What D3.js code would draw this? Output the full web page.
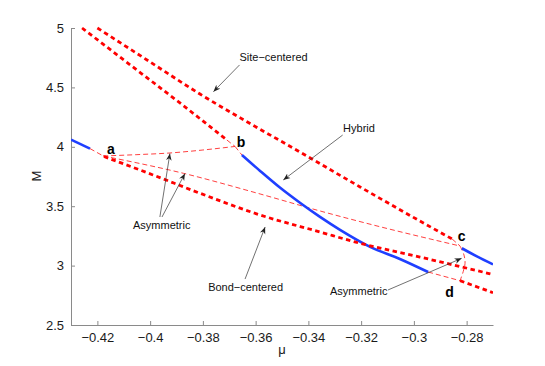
<!DOCTYPE html>
<html><head><meta charset="utf-8">
<script src="https://cdn.jsdelivr.net/npm/d3@7"></script>
<style>body{margin:0;background:#fff}svg{display:block}</style>
</head><body><svg id="c" width="545" height="366"></svg>
<script>
// ---- data ----
const xTicks = [-0.42,-0.40,-0.38,-0.36,-0.34,-0.32,-0.30,-0.28];
const xTickLabels = ["\u22120.42","\u22120.4","\u22120.38","\u22120.36","\u22120.34","\u22120.32","\u22120.3","\u22120.28"];
const yTicks = [2.5,3,3.5,4,4.5,5];
const yTickLabels = ["2.5","3","3.5","4","4.5","5"];

// [mu, M]
const siteOuter = [[-0.42,5.0],[-0.400,4.714],[-0.3811,4.444],[-0.3621,4.196],[-0.3432,3.956],[-0.3204,3.662],[-0.2977,3.375],[-0.2855,3.224]];
const siteInner = [[-0.4258,5.0],[-0.4050,4.646],[-0.3887,4.369],[-0.3709,4.057]];
const bondUpper = [[-0.4175,3.918],[-0.3989,3.763],[-0.3811,3.609],[-0.3583,3.426],[-0.3356,3.283],[-0.3204,3.188],[-0.2977,3.072],[-0.27,2.925]];
const bondLower = [[-0.2825,2.873],[-0.27,2.772]];
const hybridMain = [[-0.3652,3.931],[-0.3583,3.797],[-0.3508,3.657],[-0.3432,3.529],[-0.3356,3.410],[-0.3280,3.301],[-0.3166,3.158],[-0.3053,3.056],[-0.2946,2.946]];
const hybridLeft = [[-0.43,4.06],[-0.4228,3.985]];
const hybridRight = [[-0.2818,3.146],[-0.2761,3.077],[-0.27,3.01]];
const asymAB = [[-0.4178,3.923],[-0.405,3.934],[-0.3925,3.948],[-0.380,3.973],[-0.3678,4.003]];
const asymAC = [[-0.4178,3.923],[-0.3874,3.777],[-0.3583,3.603],[-0.3356,3.460],[-0.3128,3.327],[-0.2825,3.165]];
const asymDC = [[-0.2825,3.165],[-0.2810,3.089],[-0.2806,3.019],[-0.2813,2.949],[-0.2825,2.873]];
const connB1 = [[-0.3709,4.057],[-0.3678,4.003]];
const connB2 = [[-0.3678,4.003],[-0.3652,3.931]];
const connA = [[-0.4228,3.985],[-0.4178,3.923]];
const connC = [[-0.2855,3.224],[-0.2825,3.165]];
const connD = [[-0.2946,2.946],[-0.2825,2.873]];

// ---- chart ----
const svg = d3.select("#c");
const L = 71, R = 493, T = 28, B = 325;
const x = d3.scaleLinear().domain([-0.43,-0.27]).range([L,R]);
const y = d3.scaleLinear().domain([2.5,5]).range([B,T]);
const font = "'Liberation Sans', Arial, Helvetica, sans-serif";

svg.append("defs").append("clipPath").attr("id","clip")
  .append("rect").attr("x",L).attr("y",T-5).attr("width",R-L).attr("height",B-T+5);
svg.select("defs").append("marker").attr("id","arr")
  .attr("viewBox","0 0 10 10").attr("refX",10).attr("refY",5)
  .attr("markerWidth",7).attr("markerHeight",7).attr("markerUnits","userSpaceOnUse")
  .attr("orient","auto")
  .append("path").attr("d","M0,1 L10,5 L0,9 L3,5 Z").attr("fill","#222");

// axes
const xAxis = d3.axisBottom(x).tickValues(xTicks).tickFormat((d,i)=>xTickLabels[i]).tickSizeInner(-4).tickSizeOuter(0).tickPadding(8);
const yAxis = d3.axisLeft(y).tickValues(yTicks).tickFormat((d,i)=>yTickLabels[i]).tickSizeInner(-4).tickSizeOuter(0).tickPadding(7);
const gx = svg.append("g").attr("transform",`translate(0,${B})`).call(xAxis);
const gy = svg.append("g").attr("transform",`translate(${L},0)`).call(yAxis);
[gx,gy].forEach(g=>{
  g.select(".domain").attr("stroke","#8a8a8a").attr("stroke-width",1);
  g.selectAll(".tick line").attr("stroke","#8a8a8a");
  g.selectAll("text").attr("fill","#1a1a1a").style("font-family",font).style("font-size","13px");
});

svg.append("text").attr("x",282).attr("y",354).attr("text-anchor","middle")
  .style("font-family",font).style("font-size","13px").attr("fill","#1a1a1a").text("\u03bc");
svg.append("text").attr("transform","translate(41,176) rotate(-90)").attr("text-anchor","middle")
  .style("font-family",font).style("font-size","13px").attr("fill","#1a1a1a").text("M");

const line = d3.line().x(d=>x(d[0])).y(d=>y(d[1])).curve(d3.curveMonotoneX);
const lineC = d3.line().x(d=>x(d[0])).y(d=>y(d[1])).curve(d3.curveCatmullRom);
const plot = svg.append("g").attr("clip-path","url(#clip)");

const RED = "#ff0000", BLUE = "#1f3fff";
function draw(data, style, gen){
  plot.append("path").datum(data).attr("d",(gen||line)(data)).attr("fill","none")
    .attr("stroke",style.c).attr("stroke-width",style.w)
    .attr("stroke-dasharray",style.dash||null);
}
const thin = {c:"#ff2a2a",w:0.9,dash:"5,3"};
const thick = {c:RED,w:2.8,dash:"4.5,3.5"};
const solid = {c:BLUE,w:2.6};

[asymAB,asymAC,connB1,connB2,connA,connC,connD].forEach(d=>draw(d,thin));
draw(asymDC,thin,lineC);
[hybridMain,hybridLeft,hybridRight].forEach(d=>draw(d,solid));
[siteOuter,siteInner,bondUpper,bondLower].forEach(d=>draw(d,thick));

// annotations
const notes = [
  {t:"Site\u2212centered", tx:-0.3532, ty:4.722, arrows:[[[-0.3661,4.689],[-0.3760,4.464]]]},
  {t:"Hybrid", tx:-0.3208, ty:4.125, arrows:[[[-0.3270,4.099],[-0.3495,3.721]]]},
  {t:"Asymmetric", tx:-0.3956, ty:3.308, arrows:[[[-0.3963,3.409],[-0.3925,3.944]],[[-0.3955,3.409],[-0.3868,3.775]]]},
  {t:"Bond\u2212centered", tx:-0.3638, ty:2.786, arrows:[[[-0.3640,2.887],[-0.3564,3.325]]]},
  {t:"Asymmetric", tx:-0.3209, ty:2.753, arrows:[[[-0.3098,2.795],[-0.2819,3.061]]]}
];
notes.forEach(n=>{
  n.arrows.forEach(a=>{
    svg.append("line").attr("x1",x(a[0][0])).attr("y1",y(a[0][1]))
      .attr("x2",x(a[1][0])).attr("y2",y(a[1][1]))
      .attr("stroke","#333").attr("stroke-width",0.7).attr("marker-end","url(#arr)");
  });
  svg.append("text").attr("x",x(n.tx)).attr("y",y(n.ty)).attr("text-anchor","middle")
    .style("font-family",font).style("font-size","11px").attr("fill","#111").text(n.t);
});

const pts = [{t:"a",x:-0.4149,y:3.939},{t:"b",x:-0.3655,y:4.001},{t:"c",x:-0.2819,y:3.211},{t:"d",x:-0.2865,y:2.732}];
pts.forEach(p=>{
  svg.append("text").attr("x",x(p.x)).attr("y",y(p.y)).attr("text-anchor","middle")
    .style("font-family",font).style("font-size","14px").style("font-weight","bold").attr("fill","#000").text(p.t);
});
</script></body></html>
